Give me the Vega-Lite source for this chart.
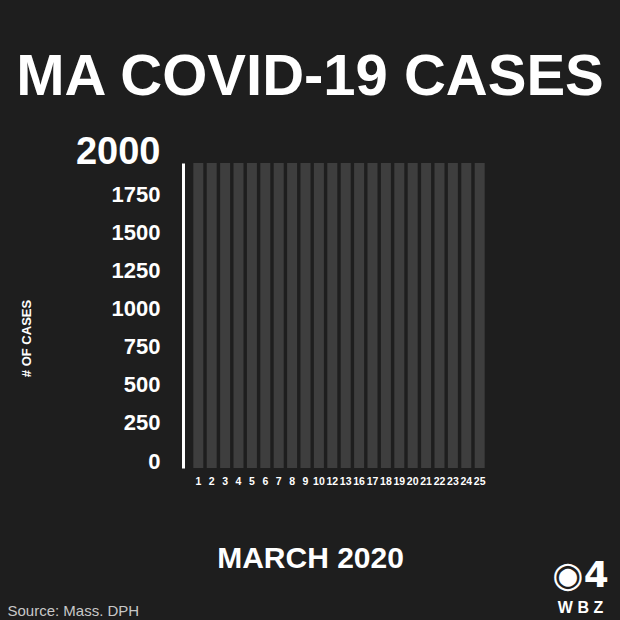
{
  "$schema": "https://vega.github.io/schema/vega-lite/v6.json",
  "background": "#1e1e1e",
  "autosize": "none",
  "padding": {"left": 183, "top": 163, "right": 125, "bottom": 152},
  "width": 312,
  "height": 305,
  "config": {"view": {"stroke": null}},
  "title": {"text": "MA COVID-19 CASES", "font": "Liberation Sans", "fontWeight": "bold", "fontSize": 58, "color": "#ffffff", "anchor": "middle", "frame": "group", "dx": -29, "baseline": "alphabetic", "offset": -20},
  "data": {"values": [
    {"day": 1, "cases": 0}, {"day": 2, "cases": 0}, {"day": 3, "cases": 0}, {"day": 4, "cases": 0},
    {"day": 5, "cases": 0}, {"day": 6, "cases": 0}, {"day": 7, "cases": 0}, {"day": 8, "cases": 0},
    {"day": 9, "cases": 0}, {"day": 10, "cases": 0}, {"day": 12, "cases": 0}, {"day": 13, "cases": 0},
    {"day": 16, "cases": 0}, {"day": 17, "cases": 0}, {"day": 18, "cases": 0}, {"day": 19, "cases": 0},
    {"day": 20, "cases": 0}, {"day": 21, "cases": 0}, {"day": 22, "cases": 0}, {"day": 23, "cases": 0},
    {"day": 24, "cases": 0}, {"day": 25, "cases": 0}
  ]},
  "resolve": {"axis": {"x": "independent", "y": "independent"}},
  "layer": [
    {
      "mark": {"type": "bar", "color": "#3e3e3e"},
      "encoding": {
        "x": {"field": "day", "type": "ordinal", "scale": {"paddingInner": 0.254, "paddingOuter": 0.77},
          "axis": {"orient": "bottom", "title": "MARCH 2020", "labelAngle": 0, "labelFont": "Liberation Sans", "labelFontWeight": "bold", "labelFontSize": 10.5, "labelColor": "#ffffff", "labelPadding": 8, "ticks": false, "domain": false,
            "titleFont": "Liberation Sans", "titleFontSize": 30, "titleFontWeight": "bold", "titleColor": "#ffffff", "titleX": 127, "titleY": 99, "titleAlign": "center", "titleBaseline": "alphabetic"}},
        "y": {"datum": 2000, "type": "quantitative", "scale": {"domain": [0, 2000]},
          "axis": {"orient": "left", "title": "# OF CASES", "values": [0, 250, 500, 750, 1000, 1250, 1500, 1750, 2000], "format": "d", "grid": false, "ticks": false, "domainColor": "#ffffff", "domainWidth": 3,
            "labelColor": "#ffffff", "labelFont": "Liberation Sans", "labelFontWeight": "bold",
            "labelFontSize": {"condition": {"test": "datum.value == 2000", "value": 38}, "value": 22},
            "labelPadding": 23, "labelBaseline": "alphabetic", "labelFlush": false, "labelOverlap": false,
            "titleFont": "Liberation Sans", "titleFontWeight": "bold", "titleFontSize": 13, "titleColor": "#ffffff", "titleX": -157, "titleY": 175, "titleAngle": -90, "titleAlign": "center", "titleBaseline": "middle"}}
      }
    },
    {
      "mark": {"type": "bar", "color": "#ffffff"},
      "encoding": {
        "x": {"field": "day", "type": "ordinal",
          "axis": {"orient": "bottom", "title": "Source: Mass. DPH", "labels": false, "ticks": false, "domain": false,
            "titleFont": "Liberation Sans", "titleFontSize": 15, "titleFontWeight": "normal", "titleColor": "#c8c8c8", "titleX": -176, "titleY": 147, "titleAlign": "left", "titleBaseline": "alphabetic"}},
        "y": {"field": "cases", "type": "quantitative",
          "axis": {"orient": "right", "title": "◉4", "labels": false, "ticks": false, "domain": false, "grid": false,
            "titleFont": "DejaVu Sans", "titleFontWeight": "bold", "titleFontSize": 36, "titleColor": "#ffffff", "titleX": 85, "titleY": 423, "titleAngle": 0, "titleAlign": "center", "titleBaseline": "alphabetic"}}
      }
    },
    {
      "mark": {"type": "bar", "color": "#ffffff"},
      "encoding": {
        "x": {"field": "day", "type": "ordinal", "axis": null},
        "y": {"field": "cases", "type": "quantitative",
          "axis": {"orient": "right", "title": "W B Z", "labels": false, "ticks": false, "domain": false, "grid": false,
            "titleFont": "Liberation Sans", "titleFontWeight": "bold", "titleFontSize": 16, "titleColor": "#ffffff", "titleX": 85, "titleY": 449, "titleAngle": 0, "titleAlign": "center", "titleBaseline": "alphabetic"}}
      }
    }
  ]
}
